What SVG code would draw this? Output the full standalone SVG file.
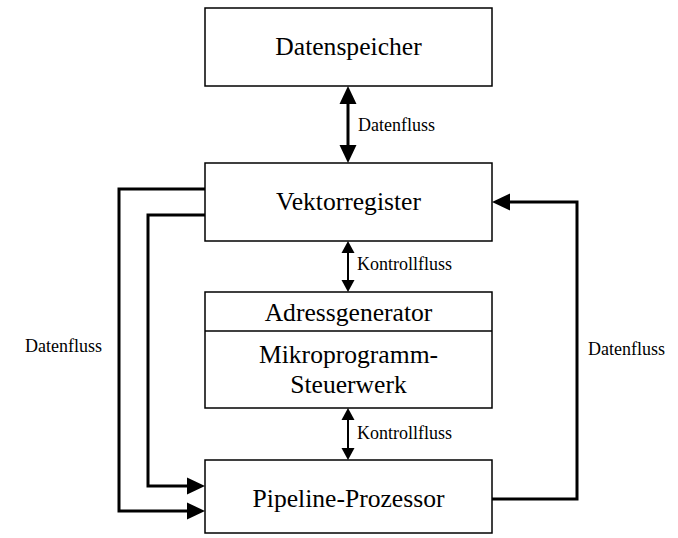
<svg xmlns="http://www.w3.org/2000/svg" width="678" height="538" viewBox="0 0 678 538">
<style>
.box{fill:#fff;stroke:#000;stroke-width:1.5}
.main{font-family:"Liberation Serif","Times New Roman",serif;font-size:25.6px;text-anchor:middle;fill:#000}
.lbl{font-family:"Liberation Serif","Times New Roman",serif;font-size:18px;fill:#000}
.thick{fill:none;stroke:#000;stroke-width:3}
.thin{fill:none;stroke:#000;stroke-width:2}
</style>
<defs>
<marker id="ah" markerUnits="userSpaceOnUse" markerWidth="18" markerHeight="18" viewBox="0 0 18 18" refX="8" refY="9" orient="auto-start-reverse">
<path d="M0,0.5 L18,9 L0,17.5 z" fill="#000"/>
</marker>
<marker id="as" markerUnits="userSpaceOnUse" markerWidth="12" markerHeight="14" viewBox="0 0 12 14" refX="6" refY="7" orient="auto-start-reverse">
<path d="M0,0.5 L12,7 L0,13.5 z" fill="#000"/>
</marker>
</defs>
<g id="connectors">
<line class="thick" x1="348" y1="96" x2="348" y2="153" marker-start="url(#ah)" marker-end="url(#ah)"/>
<line class="thin" x1="348" y1="247" x2="348" y2="286" marker-start="url(#as)" marker-end="url(#as)"/>
<line class="thin" x1="348" y1="414" x2="348" y2="454" marker-start="url(#as)" marker-end="url(#as)"/>
<path class="thick" d="M205,189 H119 V511 H195" marker-end="url(#ah)"/>
<path class="thick" d="M205,215 H148 V486 H195" marker-end="url(#ah)"/>
<path class="thick" d="M492,499 H577 V202 H502" marker-end="url(#ah)"/>
<text class="lbl" x="358" y="131">Datenfluss</text>
<text class="lbl" x="357" y="270">Kontrollfluss</text>
<text class="lbl" x="357" y="439">Kontrollfluss</text>
<text class="lbl" x="25" y="352">Datenfluss</text>
<text class="lbl" x="588" y="355">Datenfluss</text>
</g>
<g id="datenspeicher">
<rect class="box" x="205" y="8" width="287" height="78"/>
<text class="main" x="348.5" y="55">Datenspeicher</text>
</g>
<g id="vektorregister">
<rect class="box" x="205" y="163" width="287" height="78"/>
<text class="main" x="348.5" y="210">Vektorregister</text>
</g>
<g id="steuerwerk">
<rect class="box" x="205" y="292" width="287" height="116"/>
<line class="box" x1="205" y1="331" x2="492" y2="331"/>
<text class="main" x="348.5" y="321">Adressgenerator</text>
<text class="main" x="348.5" y="363">Mikroprogramm-</text>
<text class="main" x="348.5" y="393">Steuerwerk</text>
</g>
<g id="pipeline">
<rect class="box" x="205" y="460" width="287" height="73"/>
<text class="main" x="348.5" y="507">Pipeline-Prozessor</text>
</g>
</svg>
